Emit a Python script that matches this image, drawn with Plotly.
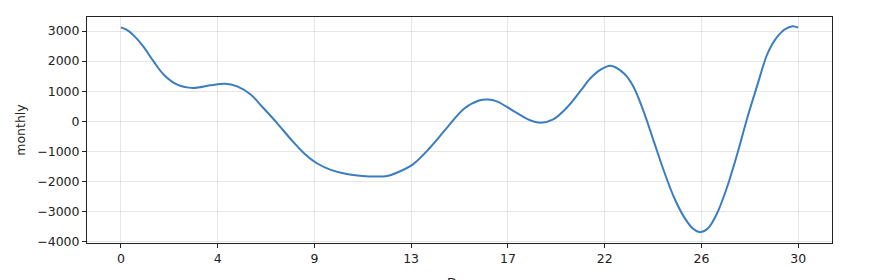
import plotly.graph_objects as go

# Data
days = [0, 0.3, 0.6, 1.0, 1.45, 1.9, 2.5, 3.2, 3.95, 4.6, 5.15, 5.75, 6.3, 6.9, 7.5, 8.1,
        8.7, 9.3, 10.0, 10.7, 11.3, 11.8, 12.25, 12.95, 13.7, 14.45, 15.2, 15.9, 16.25,
        16.65, 17.4, 18.1, 18.6, 19.15, 19.75, 20.35, 20.8, 21.25, 21.7, 22.3, 22.7,
        23.15, 23.6, 24.05, 24.5, 24.95, 25.35, 25.65, 26.0, 26.4, 26.85, 27.3, 27.75,
        28.2, 28.6, 28.85, 29.1, 29.4, 29.75, 30]
monthly = [3120, 3020, 2830, 2480, 1990, 1550, 1220, 1110, 1195, 1250, 1160, 890, 450, -40,
           -570, -1050, -1400, -1610, -1750, -1815, -1835, -1815, -1700, -1420, -870,
           -210, 420, 700, 725, 665, 340, 45, -45, 65, 450, 1000, 1430, 1715, 1845, 1580,
           1160, 340, -650, -1640, -2520, -3180, -3570, -3680, -3560, -3070, -2190,
           -1090, 120, 1220, 2170, 2560, 2830, 3050, 3160, 3110]

x_tick_vals = [0, 4.286, 8.571, 12.857, 17.143, 21.429, 25.714, 30]
x_tick_text = ["0", "4", "9", "13", "17", "22", "26", "30"]
y_tick_vals = [-4000, -3000, -2000, -1000, 0, 1000, 2000, 3000]
y_tick_text = ["\u22124000", "\u22123000", "\u22122000", "\u22121000", "0", "1000", "2000", "3000"]
x_title = "Day"
y_title = "monthly"

fig = go.Figure()
fig.add_trace(go.Scatter(
    x=days, y=monthly, mode="lines",
    line=dict(color="#3a7ebf", width=2, shape="spline", smoothing=1.0),
    hoverinfo="skip", showlegend=False,
))

grid = "rgba(128,128,128,0.2)"
font = dict(family="DejaVu Sans", size=12.5, color="#222222")

fig.update_layout(
    width=873, height=280,
    margin=dict(l=87, r=41, t=17, b=37),
    paper_bgcolor="white", plot_bgcolor="white",
    font=font,
    xaxis=dict(
        range=[-1.5, 31.5], tickmode="array", tickvals=x_tick_vals, ticktext=x_tick_text,
        showgrid=True, gridcolor=grid, gridwidth=1, zeroline=False,
        showline=True, linecolor="#222222", linewidth=1, mirror=True,
        ticks="outside", ticklen=4, tickcolor="#222222", automargin=False,
    ),
    yaxis=dict(
        range=[-4040, 3465], tickmode="array", tickvals=y_tick_vals, ticktext=y_tick_text,
        showgrid=True, gridcolor=grid, gridwidth=1, zeroline=False,
        showline=True, linecolor="#222222", linewidth=1, mirror=True,
        ticks="outside", ticklen=4, tickcolor="#222222",
        title=dict(text=y_title, font=font, standoff=8), automargin=False,
    ),
    annotations=[dict(
        text=x_title, xref="paper", yref="paper", x=0.5, y=0,
        xanchor="center", yanchor="top", yshift=-30, showarrow=False, font=font,
    )],
)

fig.write_html("out.html")
